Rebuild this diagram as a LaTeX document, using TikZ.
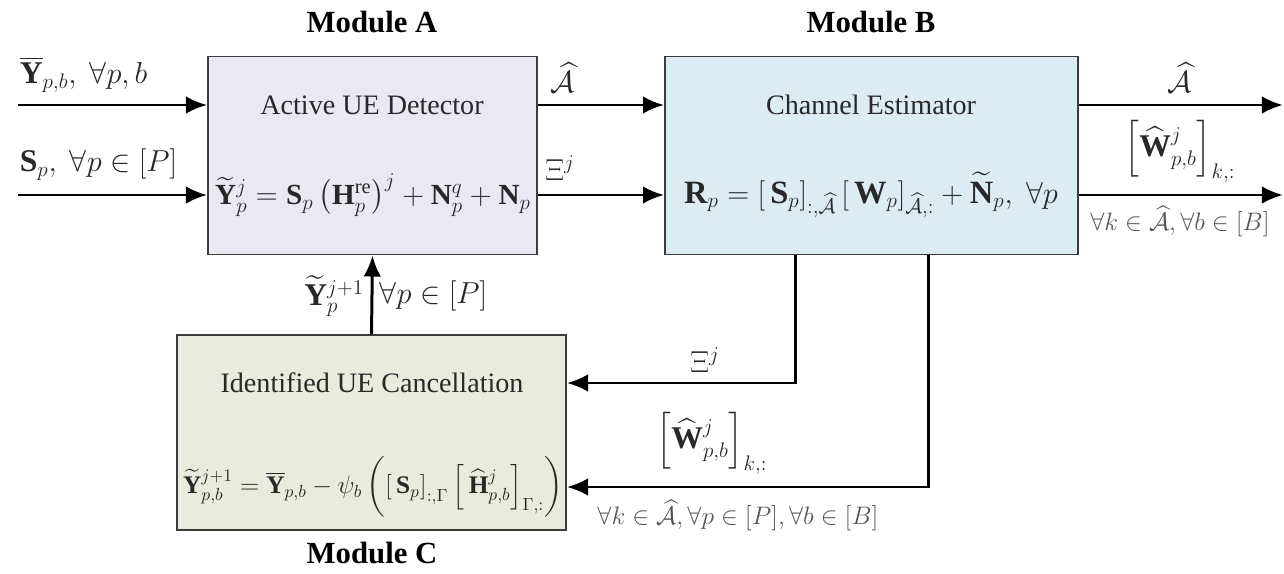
\documentclass[tikz,border=0pt]{standalone}
\usepackage{amsmath,amssymb}
\usepackage{fontspec}
\setmainfont{Liberation Serif}
\usetikzlibrary{arrows.meta,positioning}

\definecolor{fillA}{RGB}{234,232,241}
\definecolor{fillB}{RGB}{219,236,242}
\definecolor{fillC}{RGB}{233,236,221}
\definecolor{edge}{RGB}{60,60,60}
\definecolor{txt}{RGB}{40,40,40}
\definecolor{soft}{RGB}{85,85,85}

\begin{document}
\begin{tikzpicture}[x=0.02cm, y=-0.02cm,
		module/.style={draw=edge, line width=1.1pt, inner sep=0pt},
		title/.style={font=\fontsize{17.5}{20}\selectfont\bfseries, text=black},
		boxtext/.style={font=\fontsize{16}{19}\selectfont, text=txt},
		eqtext/.style={font=\fontsize{17}{20}\selectfont, text=txt, inner sep=0pt},
		lbl/.style={font=\fontsize{18}{21}\selectfont, text=txt, inner sep=2pt},
		smalllbl/.style={font=\fontsize{14.5}{17}\selectfont, text=soft, inner sep=2pt},
		flow/.style={line width=1.7pt, -{Latex[length=12pt,width=10pt]}}]
	\useasboundingbox (0,0) rectangle (1284,574);

	% Modules
	\node[module, fill=fillA, minimum width=6.58cm, minimum height=3.96cm] (boxA) at (372.5,155.5) {};
	\node[module, fill=fillB, minimum width=8.26cm, minimum height=3.96cm] (boxB) at (871.5,155.5) {};
	\node[module, fill=fillC, minimum width=7.78cm, minimum height=3.9cm] (boxC) at (371.5,432.5) {};

	% Titles
	\node[title] (titleA) at (372,22) {Module A};
	\node[title] (titleB) at (871,22) {Module B};
	\node[title] (titleC) at (372,553) {Module C};

	% Box contents
	\node[boxtext] (tA) at (372,105) {Active UE Detector};
	\node[eqtext, font=\fontsize{16.6}{20}\selectfont] (eA) at (373,195)
		{$\widetilde{\mathbf{Y}}_p^j=\mathbf{S}_p\left(\mathbf{H}_p^{\mathrm{re}}\right)^j+\mathbf{N}_p^q+\mathbf{N}_p$};
	\node[boxtext] (tB) at (871,105) {Channel Estimator};
	\node[eqtext, font=\fontsize{18.5}{21}\selectfont] (eB) at (871,195)
		{$\mathbf{R}_p=\left[\,\mathbf{S}_p\right]_{:,\widehat{\mathcal{A}}}\left[\,\mathbf{W}_p\right]_{\widehat{\mathcal{A}},:}+\widetilde{\mathbf{N}}_p,\ \forall p$};
	\node[boxtext] (tC) at (372,383) {Identified UE Cancellation};
	\node[eqtext, font=\fontsize{14.4}{17}\selectfont] (eC) at (373,487)
		{$\widetilde{\mathbf{Y}}_{p,b}^{j+1}=\overline{\mathbf{Y}}_{p,b}-\psi_b\left(\left[\,\mathbf{S}_p\right]_{:,\Gamma}\left[\,\widehat{\mathbf{H}}_{p,b}^j\right]_{\Gamma,:}\right)$};

	% Inputs
	\coordinate (inY) at (18,105);
	\coordinate (inS) at (18,195);
	\draw[flow] (inY) -- (boxA.west |- inY);
	\draw[flow] (inS) -- (boxA.west |- inS);
	\node[lbl, anchor=south west] (lblY) at (16,96) {$\overline{\mathbf{Y}}_{p,b},\ \forall p,b$};
	\node[lbl, anchor=south west] (lblS) at (16,184) {$\mathbf{S}_p,\ \forall p\in\left[P\right]$};

	% Module A to Module B
	\draw[flow] (boxA.east |- tA) -- (boxB.west |- tA);
	\draw[flow] (boxA.east |- eA) -- (boxB.west |- eA);
	\node[lbl, anchor=south] (lblAB) at (563,96) {$\widehat{\mathcal{A}}$};
	\node[lbl, anchor=south] (lblXiAB) at (560,184) {$\Xi^j$};

	% Outputs
	\coordinate (outA) at (1283,105);
	\coordinate (outW) at (1283,195);
	\draw[flow] (boxB.east |- tB) -- (outA);
	\draw[flow] (boxB.east |- eB) -- (outW);
	\node[lbl, anchor=south] (lblOutA) at (1180,96) {$\widehat{\mathcal{A}}$};
	\node[lbl, anchor=south] (lblOutW) at (1180,186) {$\left[\widehat{\mathbf{W}}_{p,b}^j\right]_{k,:}$};
	\node[smalllbl, anchor=north] (lblOutK) at (1180,202) {$\forall k\in\widehat{\mathcal{A}},\forall b\in[B]$};

	% Module C back to Module A
	\draw[flow] (boxC.north) -- (boxA.south);
	\node[lbl, anchor=east] (lblYnew) at (368,296) {$\widetilde{\mathbf{Y}}_p^{j+1}$};
	\node[lbl, anchor=west] (lblPall) at (376,296) {$\forall p\in\left[P\right]$};

	% Module B back to Module C
	\coordinate (dropXi) at (795,0);
	\coordinate (dropW) at (928,0);
	\draw[flow] (boxB.south -| dropXi) |- (boxC.east |- tC);
	\draw[flow] (boxB.south -| dropW) |- (boxC.east |- eC);
	\node[lbl, anchor=south] (lblXiBC) at (705,376) {$\Xi^j$};
	\node[lbl, anchor=south] (lblWBC) at (712,478) {$\left[\widehat{\mathbf{W}}_{p,b}^j\right]_{k,:}$};
	\node[smalllbl, anchor=north] (lblKBC) at (738,496) {$\forall k\in\widehat{\mathcal{A}},\forall p\in[P],\forall b\in[B]$};
\end{tikzpicture}
\end{document}
